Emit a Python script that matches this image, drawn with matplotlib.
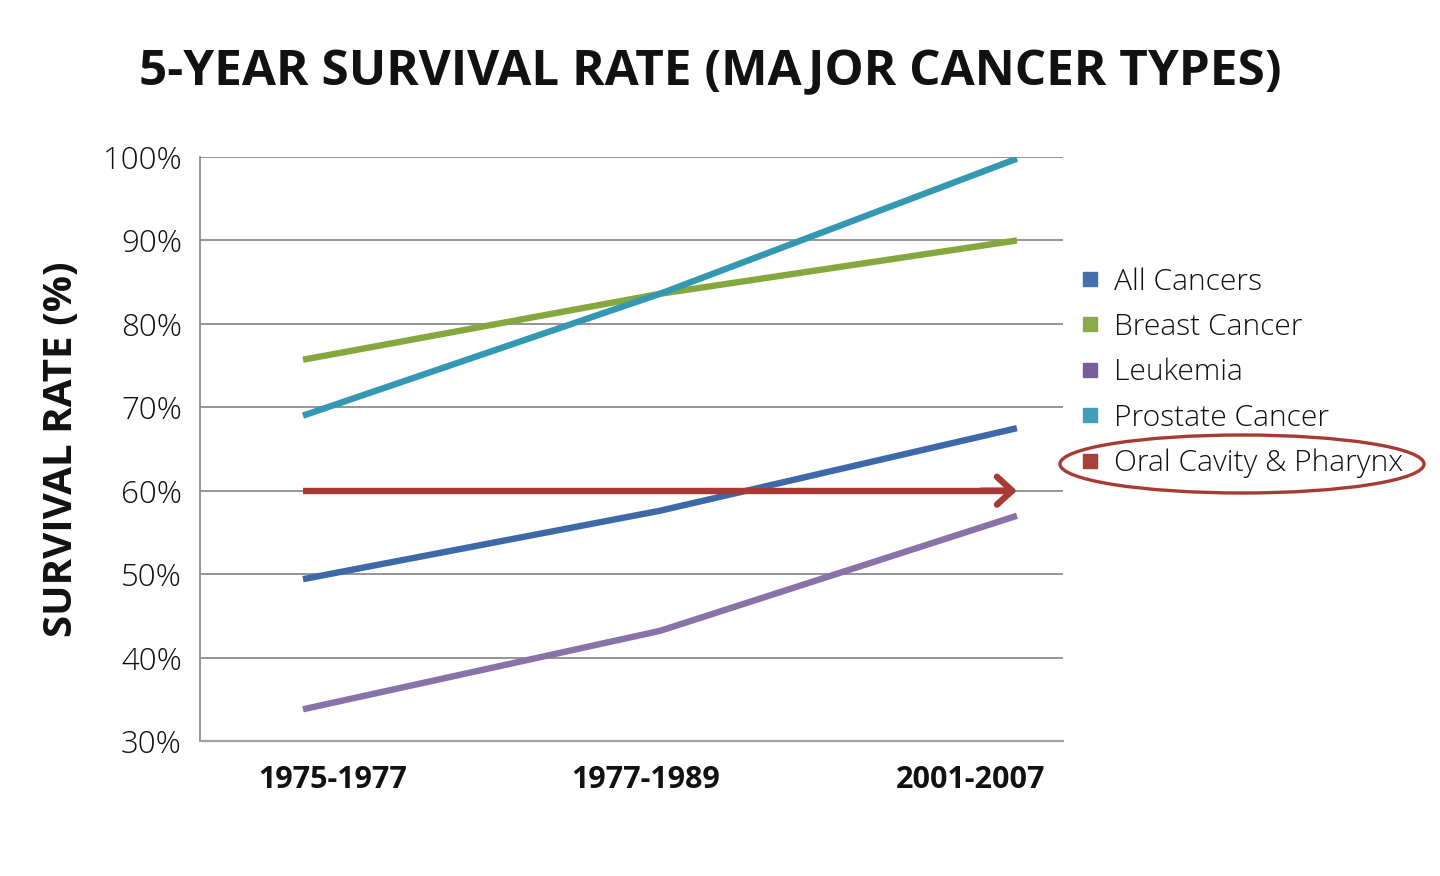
import matplotlib
matplotlib.use("Agg")
import matplotlib.pyplot as plt
from matplotlib.lines import Line2D
from matplotlib.patches import Ellipse

categories = ["1975-1977", "1977-1989", "2001-2007"]
series_names = ["All Cancers", "Breast Cancer", "Leukemia", "Prostate Cancer", "Oral Cavity & Pharynx"]
all_cancers = [49.4, 57.6, 67.5]
breast_cancer = [75.7, 83.6, 90.0]
leukemia = [33.8, 43.2, 57.0]
prostate_cancer = [69.0, 83.6, 99.8]
oral_cavity = [60.0, 60.0, 60.0]
y_ticks = [30, 40, 50, 60, 70, 80, 90, 100]

line_colors = ["#3E69A8", "#85A83E", "#8872A8", "#3498B2", "#A73A34"]
marker_colors = ["#4470AD", "#8BAA4A", "#7A5E9C", "#3F9EB8", "#A8403A"]

plt.rcParams['font.family'] = ['Open Sans', 'DejaVu Sans']

fig = plt.figure(figsize=(14.4, 8.76), dpi=100)
ax = fig.add_axes([200/1440, 1-741/876, 863/1440, 584/876])

x = [0, 1, 2]
series = [all_cancers, breast_cancer, leukemia, prostate_cancer]
for vals, c in zip(series, line_colors[:4]):
    ax.plot(x, vals, color=c, lw=4.6, solid_capstyle='butt', zorder=3)

# oral cavity with arrow
ax.plot(x[:2] + [x[2] - 0.02], oral_cavity, color=line_colors[4], lw=4.6,
        solid_capstyle='butt', zorder=3)
ax.annotate("", xy=(x[2], oral_cavity[2]), xytext=(x[2] - 0.1, oral_cavity[2]),
            arrowprops=dict(arrowstyle="->,head_length=0.55,head_width=0.5",
                            mutation_scale=20,
                            color=line_colors[4], lw=4.6, shrinkA=0, shrinkB=0),
            zorder=4)

ax.set_ylim(30, 100)
ax.set_xlim(-0.2885, 2.129)
ax.set_yticks(y_ticks)
ax.set_yticklabels([f"{v}%" for v in y_ticks], fontsize=22.5, fontweight='light', color="#111111")
ax.set_xticks([0.084, 0.961, 1.871])
ax.set_xticklabels(categories, fontsize=22, fontweight='bold', color="#111111")
ax.tick_params(axis='y', length=0, pad=13)
ax.tick_params(axis='x', length=0, pad=17)
ax.grid(axis='y', color="#8C8C8C", lw=1.3, zorder=1)
ax.set_axisbelow(True)
for s in ['top', 'right']:
    ax.spines[s].set_visible(False)
ax.spines['left'].set_color("#8C8C8C")
ax.spines['left'].set_linewidth(1.3)
ax.spines['bottom'].set_color("#A0A0A0")
ax.spines['bottom'].set_linewidth(1.6)

ax.set_ylabel("SURVIVAL RATE (%)", fontsize=29, fontweight='bold', labelpad=16, color="#111111")

fig.text(710/1440, 1-73/876, "5-YEAR SURVIVAL RATE (MAJOR CANCER TYPES)",
         ha='center', va='center', fontsize=35.6, fontweight='bold', color="#111111")

handles = [Line2D([], [], marker='s', linestyle='none', markersize=10,
                  markerfacecolor=c, markeredgecolor=c) for c in marker_colors]
leg = fig.legend(handles, series_names, loc='upper left',
                 bbox_to_anchor=(1063/1440, 1-255/876), frameon=False,
                 prop=dict(size=21.6, weight='light'), labelspacing=0.53, handletextpad=0.3,
                 handlelength=1.0, borderaxespad=0)
for t in leg.get_texts():
    t.set_color("#111111")

ell = Ellipse((1242/1440, 1-464/876), 364/1440, 58/876, transform=fig.transFigure,
              fill=False, edgecolor="#A83A34", lw=2.4)
fig.add_artist(ell)

fig.savefig("out.png", dpi=100, facecolor="white")
